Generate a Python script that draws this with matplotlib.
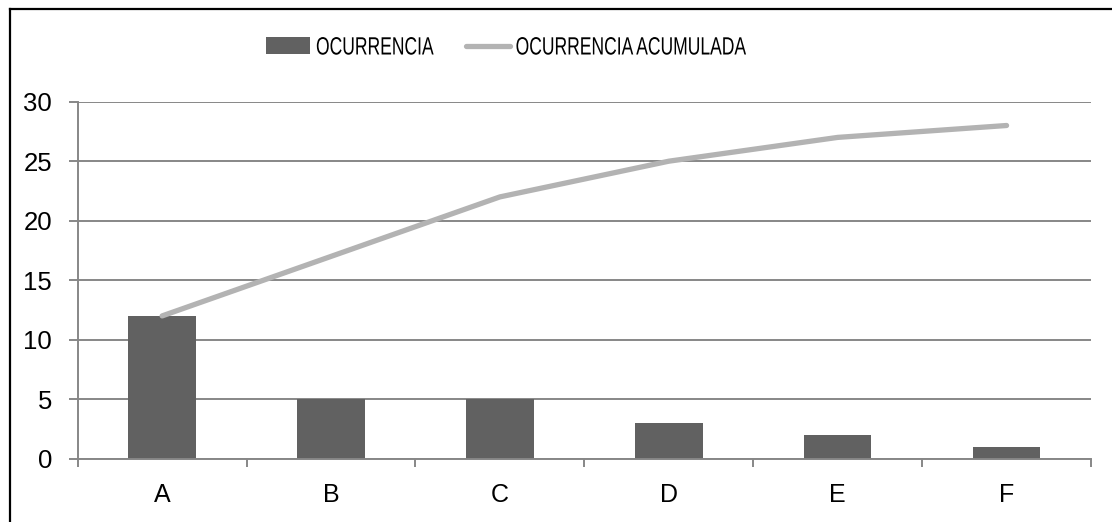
import numpy as np
import matplotlib.pyplot as plt
from matplotlib.lines import Line2D
from matplotlib.patheffects import AbstractPathEffect
from matplotlib.transforms import Affine2D

# Pareto de ocurrencias por categoría
categorias = ["A", "B", "C", "D", "E", "F"]
ocurrencia = [12, 5, 5, 3, 2, 1]
acumulada = [12, 17, 22, 25, 27, 28]
yticks = [0, 5, 10, 15, 20, 25, 30]

color_barra = "#616161"
color_linea = "#b3b3b3"
color_eje = "#878787"

plt.rcParams["font.family"] = ["Liberation Sans", "DejaVu Sans"]


class Estrecho(AbstractPathEffect):
    """Comprime el texto en horizontal respecto a su origen."""

    def __init__(self, sx):
        super().__init__()
        self.sx = sx

    def draw_path(self, renderer, gc, tpath, affine, rgbFace=None):
        tx = affine.get_matrix()[0, 2]
        t = affine + Affine2D().translate(-tx, 0).scale(self.sx, 1).translate(tx, 0)
        renderer.draw_path(gc, tpath, t, rgbFace)


W, H = 1112, 522
fig = plt.figure(figsize=(W / 100, H / 100), dpi=100)
ax = fig.add_axes([77.7 / W, 1 - 458.7 / H, (1091 - 77.7) / W, (458.7 - 101.7) / H])

x = np.arange(len(categorias))
barras = ax.bar(x, ocurrencia, width=0.4, color=color_barra, zorder=2)
linea, = ax.plot(x, acumulada, color=color_linea, lw=3.8, solid_capstyle="round", zorder=3)

ax.set_xlim(-0.5, len(categorias) - 0.5)
ax.set_ylim(0, 30)
ax.set_yticks(yticks)
ax.set_yticklabels([str(v) for v in yticks])
ax.grid(axis="y", color=color_eje, lw=1.4, zorder=1)

# categorías centradas, marcas entre categorías
ax.set_xticks(np.arange(-0.5, len(categorias)), minor=False)
ax.set_xticklabels([""] * (len(categorias) + 1))
ax.set_xticks(x, minor=True)
ax.set_xticklabels(categorias, minor=True)
ax.tick_params(axis="x", which="minor", length=0, pad=17.5, labelsize=18)
ax.tick_params(axis="x", which="major", length=6, width=1.4, color=color_eje)
ax.tick_params(axis="y", length=6.5, width=1.4, color=color_eje, pad=12, labelsize=18.5)

for s in ["top", "right"]:
    ax.spines[s].set_visible(False)
for s in ["left", "bottom"]:
    ax.spines[s].set_color(color_eje)
    ax.spines[s].set_linewidth(1.4)

leg = fig.legend([barras, linea], ["OCURRENCIA", "OCURRENCIA ACUMULADA"],
                 loc="center left", bbox_to_anchor=(266 / W, 1 - 47.5 / H), ncol=2,
                 frameon=False, borderaxespad=0, borderpad=0, handlelength=1.76,
                 handleheight=0.68, handletextpad=0.24, columnspacing=-0.72,
                 fontsize=18)
for t in leg.get_texts():
    t.set_path_effects([Estrecho(0.70)])

# marco del área del gráfico (izquierda y arriba)
fig.add_artist(Line2D([9.5 / W, 9.5 / W], [0, 1 - 8.5 / H], color="black", lw=1.6,
                      transform=fig.transFigure))
fig.add_artist(Line2D([9.5 / W, 1], [1 - 8.5 / H, 1 - 8.5 / H], color="black", lw=1.6,
                      transform=fig.transFigure))

fig.savefig("out.png", dpi=100)
